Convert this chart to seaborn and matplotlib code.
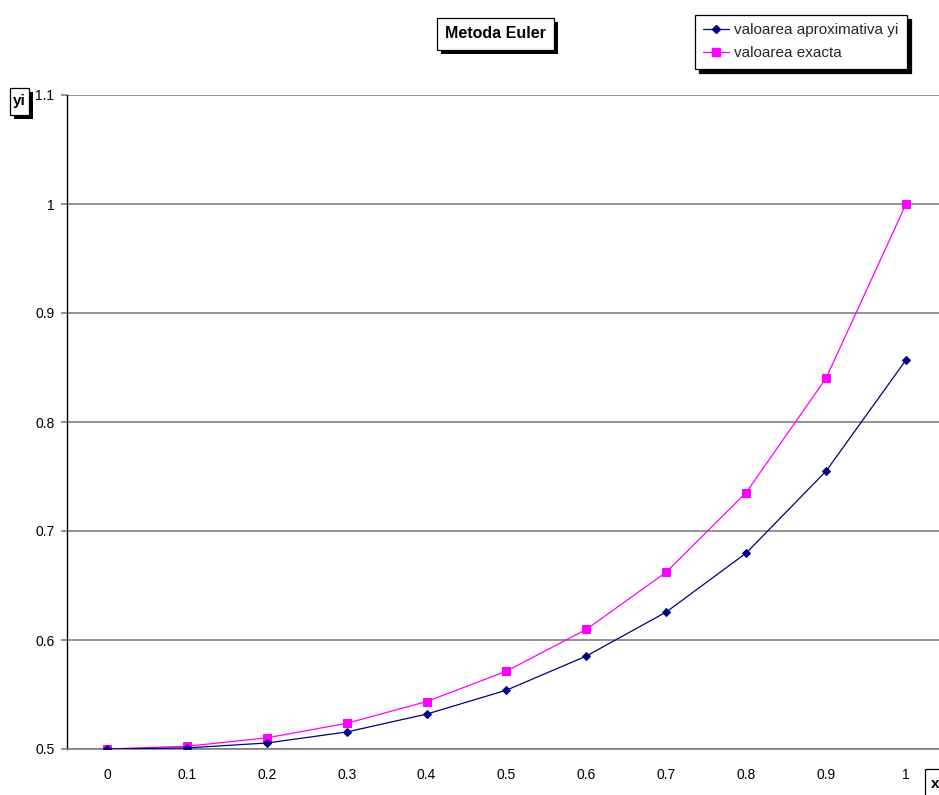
import matplotlib
matplotlib.use("Agg")
import matplotlib.pyplot as plt
from matplotlib.patches import Rectangle
from matplotlib.lines import Line2D
import seaborn as sns
import pandas as pd

# Grid points and the two series
x_labels = ["0", "0.1", "0.2", "0.3", "0.4", "0.5", "0.6", "0.7", "0.8", "0.9", "1"]
approx_vals = [0.5, 0.501, 0.5055, 0.5156, 0.532, 0.554, 0.5853, 0.6257, 0.6798, 0.755, 0.857]
exact_vals = [0.5, 0.5025, 0.5102, 0.5236, 0.5435, 0.5714, 0.6098, 0.6623, 0.7353, 0.8403, 1.0]
y_ticks = [0.5, 0.6, 0.7, 0.8, 0.9, 1.0, 1.1]
y_tick_labels = ["0.5", "0.6", "0.7", "0.8", "0.9", "1", "1.1"]

label_approx = "valoarea aproximativa yi"
label_exact = "valoarea exacta"
navy = "#000080"
magenta = "#FF00FF"

sns.set_theme(style="white")
plt.rcParams["font.family"] = ["Liberation Sans", "DejaVu Sans"]

W, H = 939, 795
fig = plt.figure(figsize=(W / 100, H / 100), dpi=100)
ax = fig.add_axes([67 / W, 1 - 749 / H, (946 - 67) / W, (749 - 95) / H])

df = pd.DataFrame({
    "pos": list(range(len(x_labels))) * 2,
    "y": approx_vals + exact_vals,
    "serie": [label_approx] * len(x_labels) + [label_exact] * len(x_labels),
})

sns.lineplot(data=df[df.serie == label_approx], x="pos", y="y", ax=ax,
             color=navy, lw=0.9, marker="D", markersize=4.5,
             markeredgecolor=navy, markerfacecolor=navy, legend=False, zorder=4)
sns.lineplot(data=df[df.serie == label_exact], x="pos", y="y", ax=ax,
             color=magenta, lw=0.9, marker="s", markersize=5.5,
             markeredgecolor=magenta, markerfacecolor=magenta, legend=False, zorder=3)

ax.set_xlim(-0.5, len(x_labels) - 0.5)
ax.set_ylim(0.5, 1.1)
ax.set_xticks(range(len(x_labels)))
ax.set_xticklabels(x_labels)
ax.set_yticks(y_ticks)
ax.set_yticklabels(y_tick_labels)
ax.set_xlabel("")
ax.set_ylabel("")

ax.yaxis.grid(True, color="#808080", lw=1.2)
ax.xaxis.grid(False)
for side in ["top", "right"]:
    ax.spines[side].set_visible(False)
ax.spines["left"].set_color("black")
ax.spines["left"].set_linewidth(1.0)
ax.spines["bottom"].set_color("#808080")
ax.spines["bottom"].set_linewidth(1.2)

ax.tick_params(axis="y", which="major", left=True, length=4, width=1.2,
               color="#808080", pad=5, labelsize=10, labelcolor="black")
ax.tick_params(axis="x", which="major", bottom=False, length=0, pad=14,
               labelsize=10, labelcolor="black")


def boxed_text(x0, y0, x1, y1, s, size=11):
    """Bold text in a white box (pixel extents) with a solid black drop shadow."""
    def to_fig(px, py):
        return px / W, 1 - py / H
    sx, sy = to_fig(x0 + 4, y1 + 4)
    fig.add_artist(Rectangle((sx, sy), (x1 - x0) / W, (y1 - y0) / H,
                             transform=fig.transFigure, fc="black", ec="black",
                             lw=0, zorder=5))
    bx, by = to_fig(x0, y1)
    fig.add_artist(Rectangle((bx, by), (x1 - x0) / W, (y1 - y0) / H,
                             transform=fig.transFigure, fc="white", ec="black",
                             lw=0.9, zorder=6))
    cx, cy = to_fig((x0 + x1) / 2, (y0 + y1) / 2)
    fig.text(cx, cy, s, ha="center", va="center", fontsize=size,
             fontweight="bold", color="black", zorder=7)


boxed_text(437, 18, 554, 50, "Metoda Euler", size=11.5)
boxed_text(10, 88, 29, 115, "yi", size=11)
boxed_text(925, 769, 945, 798, "x", size=11)

handles = [
    Line2D([], [], color=navy, lw=0.9, marker="D", markersize=4.5,
           markeredgecolor=navy, markerfacecolor=navy),
    Line2D([], [], color=magenta, lw=0.9, marker="s", markersize=5.5,
           markeredgecolor=magenta, markerfacecolor=magenta),
]
leg = fig.legend(handles, [label_approx, label_exact], loc="upper left",
                 bbox_to_anchor=(695 / W, 1 - 15 / H), borderaxespad=0,
                 fancybox=False, frameon=True, fontsize=11,
                 handlelength=1.7, handletextpad=0.3, labelspacing=0.58,
                 borderpad=0.55,
                 shadow={"ox": 3, "oy": -3, "facecolor": "black", "edgecolor": "black", "alpha": 1})
leg.get_frame().set_edgecolor("black")
leg.get_frame().set_linewidth(0.9)
leg.get_frame().set_facecolor("white")

fig.savefig("out.png", dpi=100)
